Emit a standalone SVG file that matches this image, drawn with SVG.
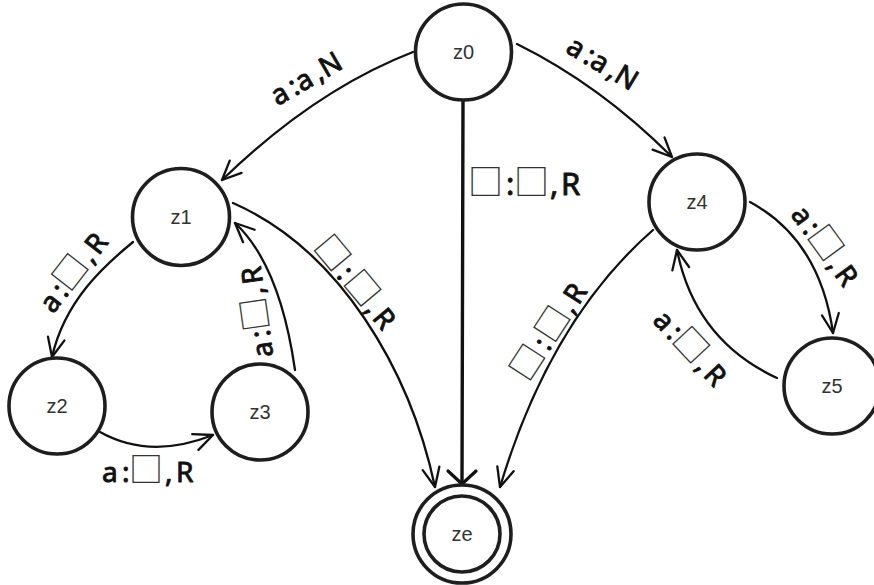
<svg xmlns="http://www.w3.org/2000/svg" width="874" height="585" viewBox="0 0 874 585">
  <defs>
    <style>
      .state { fill: #ffffff; stroke: #1e1e1e; stroke-width: 3.6; }
      .name { font-family: "Liberation Sans", Arial, sans-serif; font-size: 20px; fill: #333333; text-anchor: middle; }
      .edge { fill: none; stroke: #111111; stroke-width: 2.3; stroke-linecap: round; }
      .edge.main { stroke-width: 3.4; }
      .lbl { font-family: "Noto Sans", "DejaVu Sans", sans-serif; font-size: 28px; fill: #111111; stroke: #111111; stroke-width: 0.9; stroke-linejoin: round; }
      .lbl.big { font-size: 31px; }
      .sq { font-family: "Noto Sans CJK SC", "Noto Sans CJK JP", sans-serif; font-size: 34px; fill: #333333; stroke: none; }
      .big .sq { font-size: 35px; }
    </style>
    <marker id="open" viewBox="-22 -12 26 24" markerWidth="26" markerHeight="24" refX="0" refY="0" orient="auto" markerUnits="userSpaceOnUse">
      <path d="M-19,-8.5 L0,0 L-19,8.5" fill="none" stroke="#111111" stroke-width="2.3" stroke-linecap="round" stroke-linejoin="round"/>
    </marker>
    <marker id="openWide" viewBox="-18 -18 22 36" markerWidth="22" markerHeight="36" refX="0" refY="0" orient="auto" markerUnits="userSpaceOnUse">
      <path d="M-13,-14 L0,0 L-13,14" fill="none" stroke="#111111" stroke-width="3.2" stroke-linecap="round" stroke-linejoin="round"/>
    </marker>
  </defs>

  <rect width="874" height="585" fill="#ffffff"/>

  <!-- transitions -->
  <g id="connectors">
    <path class="edge" d="M413,52 Q315,90 222,180" marker-end="url(#open)"/>
    <path class="edge" d="M517,44 Q600,85 672,157" marker-end="url(#open)"/>
    <path class="edge main" d="M463,100 L462,484" marker-end="url(#openWide)"/>
    <path class="edge" d="M233,203 C340,250 410,370 435,487" marker-end="url(#open)"/>
    <path class="edge" d="M653,230 Q550,320 500,487" marker-end="url(#open)"/>
    <path class="edge" d="M133,242 C105,265 65,300 52,357" marker-end="url(#open)"/>
    <path class="edge" d="M100,432 Q150,460 213,435" marker-end="url(#open)"/>
    <path class="edge" d="M295,370 Q280,265 235,223" marker-end="url(#open)"/>
    <path class="edge" d="M750,202 Q820,240 833,333" marker-end="url(#open)"/>
    <path class="edge" d="M777,378 Q695,340 677,250" marker-end="url(#open)"/>

    <!-- transition labels (local baseline starts at 0,0) -->
    <text class="lbl" transform="translate(277.6,106.2) rotate(-30)"><tspan x="0">a</tspan><tspan x="20">:</tspan><tspan x="28">a</tspan><tspan x="48">,</tspan><tspan x="56">N</tspan></text>
    <text class="lbl" transform="translate(564.6,51.5) rotate(31)"><tspan x="0">a</tspan><tspan x="20">:</tspan><tspan x="28">a</tspan><tspan x="48">,</tspan><tspan x="56">N</tspan></text>
    <text class="lbl big" transform="translate(472,195)"><tspan class="sq" x="-4">□</tspan><tspan x="34">:</tspan><tspan class="sq" x="42">□</tspan><tspan x="78">,</tspan><tspan x="89">R</tspan></text>
    <text class="lbl" transform="translate(314,250) rotate(50)"><tspan class="sq" x="-3">□</tspan><tspan x="34">:</tspan><tspan class="sq" x="43">□</tspan><tspan x="78">,</tspan><tspan x="89">R</tspan></text>
    <text class="lbl" transform="translate(530,380.7) rotate(-57)"><tspan class="sq" x="-3">□</tspan><tspan x="34">:</tspan><tspan class="sq" x="43">□</tspan><tspan x="78">,</tspan><tspan x="89">R</tspan></text>
    <text class="lbl" transform="translate(53,314.5) rotate(-52)"><tspan x="0">a</tspan><tspan x="20">:</tspan><tspan class="sq" x="27">□</tspan><tspan x="63">,</tspan><tspan x="74">R</tspan></text>
    <text class="lbl" transform="translate(102,482)"><tspan x="0">a</tspan><tspan x="20">:</tspan><tspan class="sq" x="27">□</tspan><tspan x="63">,</tspan><tspan x="74">R</tspan></text>
    <text class="lbl" transform="translate(273.2,356.1) rotate(-98)"><tspan x="0">a</tspan><tspan x="20">:</tspan><tspan class="sq" x="27">□</tspan><tspan x="63">,</tspan><tspan x="74">R</tspan></text>
    <text class="lbl" transform="translate(790,214.4) rotate(54)"><tspan x="0">a</tspan><tspan x="20">:</tspan><tspan class="sq" x="27">□</tspan><tspan x="63">,</tspan><tspan x="74">R</tspan></text>
    <text class="lbl" transform="translate(651.8,321.3) rotate(47)"><tspan x="0">a</tspan><tspan x="20">:</tspan><tspan class="sq" x="27">□</tspan><tspan x="63">,</tspan><tspan x="74">R</tspan></text>
  </g>

  <!-- states -->
  <g id="z0"><circle class="state" cx="463.5" cy="52" r="48"/><text class="name" x="463.5" y="59">z0</text></g>
  <g id="z1"><circle class="state" cx="181" cy="217" r="48.5"/><text class="name" x="181" y="224">z1</text></g>
  <g id="z2"><circle class="state" cx="57" cy="406" r="48"/><text class="name" x="57" y="413">z2</text></g>
  <g id="z3"><circle class="state" cx="260" cy="412" r="48"/><text class="name" x="260" y="419">z3</text></g>
  <g id="z4"><circle class="state" cx="697" cy="202" r="48"/><text class="name" x="697" y="209">z4</text></g>
  <g id="z5"><circle class="state" cx="832" cy="386" r="48"/><text class="name" x="832" y="393">z5</text></g>
  <g id="ze">
    <circle class="state" cx="462" cy="534" r="49"/>
    <circle class="state" cx="462" cy="534" r="38"/>
    <text class="name" x="462" y="541">ze</text>
  </g>
</svg>
